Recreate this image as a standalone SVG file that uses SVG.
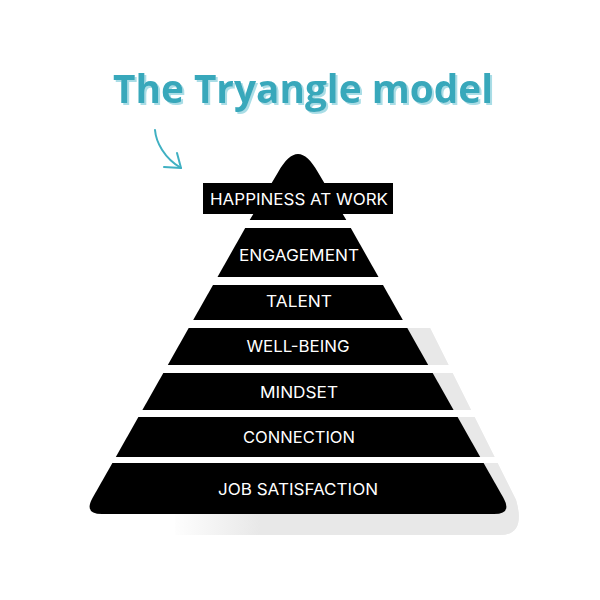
<svg xmlns="http://www.w3.org/2000/svg" width="600" height="600" viewBox="0 0 600 600">
  <defs>
    <linearGradient id="shFade" x1="170" y1="0" x2="260" y2="0" gradientUnits="userSpaceOnUse">
      <stop offset="0" stop-color="#e8e8e8" stop-opacity="0"/>
      <stop offset="1" stop-color="#e8e8e8" stop-opacity="1"/>
    </linearGradient>
    <filter id="tshadow" x="-5%" y="-20%" width="110%" height="150%">
      <feOffset in="SourceAlpha" dx="2" dy="2" result="off"/>
      <feFlood flood-color="#a9dde6"/>
      <feComposite in2="off" operator="in" result="sh"/>
      <feMerge>
        <feMergeNode in="sh"/>
        <feMergeNode in="SourceGraphic"/>
      </feMerge>
    </filter>
    <style>
      .band { fill: #000; }
      .lbl { fill: #fff; font-family: Inter, "Open Sans", "Liberation Sans", sans-serif; font-size: 16px; font-weight: 400; text-anchor: middle; }
      .title { font-family: "Open Sans", "Noto Sans", "Liberation Sans", sans-serif; font-size: 40px; font-weight: 700; text-anchor: middle; }
      .arrow { fill: none; stroke: #3fb0c2; stroke-width: 2; stroke-linecap: round; stroke-linejoin: round; }
    </style>
  </defs>
  <rect width="600" height="600" fill="#fff"/>

  <!-- title -->
  <g id="title">
    <text class="title" x="303" y="103" fill="#39a8bb" filter="url(#tshadow)" textLength="380" lengthAdjust="spacingAndGlyphs">The Tryangle model</text>
  </g>

  <!-- shadow -->
  <g id="shadow">
    <path d="M400 328 L430 328 L516 500 Q526 535 500 535 L175 535 L175 514 L400 514 Z" fill="url(#shFade)"/>
    <path d="M300 328 L430 328 L516 500 Q526 535 500 535 L260 535 L260 514 L300 514 Z" fill="#e8e8e8"/>
    <rect x="150" y="365" width="380" height="8" fill="#fff"/>
    <rect x="130" y="410" width="400" height="7" fill="#fff"/>
    <rect x="110" y="457" width="420" height="6" fill="#fff"/>
  </g>

  <!-- connectors -->
  <g id="connectors">
    <path class="arrow" d="M155 130 C156 142, 164 158, 181 168"/>
    <path class="arrow" d="M177 153 L181 168 L164 167"/>
  </g>

  <g id="happiness">
    <path class="band" d="M249.7 220 L278.2 172 C291.8 148, 304.2 148, 317.8 172 L346.3 220 Z"/>
    <rect class="band" x="203" y="183" width="190" height="31"/>
    <text class="lbl" x="299" y="205" textLength="178" lengthAdjust="spacingAndGlyphs">HAPPINESS AT WORK</text>
  </g>
  <g id="engagement">
    <polygon class="band" points="245.2,228 350.8,228 378.5,277 217.5,277"/>
    <text class="lbl" x="299" y="261" textLength="120" lengthAdjust="spacingAndGlyphs">ENGAGEMENT</text>
  </g>
  <g id="talent">
    <polygon class="band" points="213,285 383,285 402.8,320 193.2,320"/>
    <text class="lbl" x="299" y="307" textLength="66" lengthAdjust="spacingAndGlyphs">TALENT</text>
  </g>
  <g id="wellbeing">
    <polygon class="band" points="188.7,328 407.3,328 428.2,365 167.8,365"/>
    <text class="lbl" x="298" y="352" textLength="103" lengthAdjust="spacingAndGlyphs">WELL-BEING</text>
  </g>
  <g id="mindset">
    <polygon class="band" points="163.3,373 432.7,373 453.6,410 142.4,410"/>
    <text class="lbl" x="299" y="398" textLength="78" lengthAdjust="spacingAndGlyphs">MINDSET</text>
  </g>
  <g id="connection">
    <polygon class="band" points="138.4,417 457.6,417 480.2,457 115.8,457"/>
    <text class="lbl" x="299" y="443" textLength="112" lengthAdjust="spacingAndGlyphs">CONNECTION</text>
  </g>
  <g id="jobsatisfaction">
    <path class="band" d="M112.4 463 L483.6 463 L503.5 498 Q512.4 514 494 514 L102 514 Q83.6 514 92.5 498 Z"/>
    <text class="lbl" x="298" y="495" textLength="160" lengthAdjust="spacingAndGlyphs">JOB SATISFACTION</text>
  </g>
</svg>
